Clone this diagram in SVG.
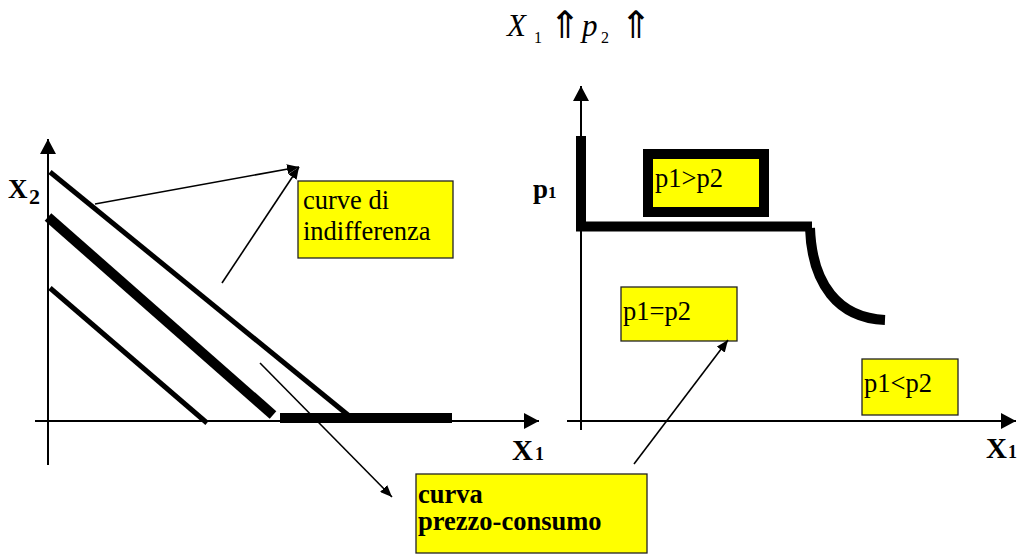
<svg xmlns="http://www.w3.org/2000/svg" width="1019" height="554" viewBox="0 0 1019 554">
<defs>
<marker id="ah" viewBox="0 0 12 10" refX="12" refY="5" markerWidth="12" markerHeight="10" markerUnits="userSpaceOnUse" orient="auto">
<path d="M0,0 L12,5 L0,10 Z" fill="#000"/>
</marker>
<marker id="axh" viewBox="0 0 15 16" refX="15" refY="8" markerWidth="15" markerHeight="16" markerUnits="userSpaceOnUse" orient="auto">
<path d="M0,0 L15,8 L0,16 Z" fill="#000"/>
</marker>
</defs>
<style>
.ax{stroke:#000;stroke-width:2;fill:none}
.cv{stroke:#000;fill:none}
.box{fill:#ffff00;stroke:#222;stroke-width:1.3}
.conn{stroke:#000;stroke-width:1.6;fill:none}
.b{font-weight:bold}
.arr{font-family:"DejaVu Sans",sans-serif;font-size:38px}
</style>
<rect width="1019" height="554" fill="#fff"/>

<g font-family="Liberation Serif, Tinos, DejaVu Serif, Times New Roman, serif" fill="#000">

<g id="title">
<text x="507" y="36" font-size="31" font-style="italic">X</text>
<text x="534" y="43" font-size="16">1</text>
<text class="arr" x="549" y="38">⇑</text>
<text x="582" y="36" font-size="31" font-style="italic">p</text>
<text x="601" y="43" font-size="16">2</text>
<text class="arr" x="620" y="38">⇑</text>
</g>

<g id="left-axes">
<line class="ax" x1="48" y1="465" x2="48" y2="139" marker-end="url(#axh)"/>
<line class="ax" x1="35" y1="421" x2="539" y2="421" marker-end="url(#axh)"/>
<text class="b" x="8" y="198" font-size="27">X</text>
<text class="b" x="29" y="204" font-size="22">2</text>
<text class="b" x="512" y="460" font-size="29">X</text>
<text class="b" x="535" y="460" font-size="18">1</text>
</g>

<g id="left-curves">
<line class="cv" x1="50" y1="172" x2="348" y2="415" stroke-width="5"/>
<line class="cv" x1="48" y1="217" x2="273" y2="415" stroke-width="10"/>
<line class="cv" x1="50" y1="288" x2="207" y2="423" stroke-width="5"/>
<rect x="280" y="413" width="172" height="10" fill="#000"/>
</g>

<g id="right-axes">
<line class="ax" x1="581" y1="430" x2="581" y2="86" marker-end="url(#axh)"/>
<line class="ax" x1="567" y1="421" x2="1016" y2="421" marker-end="url(#axh)"/>
<text class="b" x="533" y="198" font-size="27">p</text>
<text class="b" x="548" y="198" font-size="17">1</text>
<text class="b" x="986" y="458" font-size="29">X</text>
<text class="b" x="1008" y="458" font-size="18">1</text>
</g>

<g id="right-curve">
<path class="cv" d="M581,136 L581,226.5 L812,226.5" stroke-width="10"/>
<path class="cv" d="M810,228 C812,284 838,318 885,320" stroke-width="10"/>
</g>

<g id="node-curve-indifferenza">
<rect class="box" x="298" y="181" width="155" height="77"/>
<text x="303" y="209" font-size="26.5">curve di</text>
<text x="303" y="240" font-size="26.5">indifferenza</text>
</g>

<g id="node-curva-prezzo-consumo">
<rect class="box" x="416" y="474" width="231" height="79"/>
<text class="b" x="418" y="503" font-size="26.5">curva</text>
<text class="b" x="418" y="530" font-size="26.5">prezzo-consumo</text>
</g>

<g id="node-p1-gt-p2">
<rect x="648" y="154" width="116" height="58" fill="#ffff00" stroke="#000" stroke-width="10"/>
<text x="655" y="187" font-size="26.5">p1&gt;p2</text>
</g>

<g id="node-p1-eq-p2">
<rect class="box" x="621" y="287" width="116" height="54"/>
<text x="623" y="320" font-size="26.5">p1=p2</text>
</g>

<g id="node-p1-lt-p2">
<rect class="box" x="862" y="359" width="96" height="56"/>
<text x="864" y="392" font-size="26.5">p1&lt;p2</text>
</g>

</g>

<g id="connectors">
<line class="conn" x1="95" y1="204" x2="299" y2="167" marker-end="url(#ah)"/>
<line class="conn" x1="222" y1="283" x2="299" y2="167" marker-end="url(#ah)"/>
<line class="conn" x1="260" y1="363" x2="392" y2="497" marker-end="url(#ah)"/>
<line class="conn" x1="634" y1="464" x2="728" y2="340" marker-end="url(#ah)"/>
</g>
</svg>
